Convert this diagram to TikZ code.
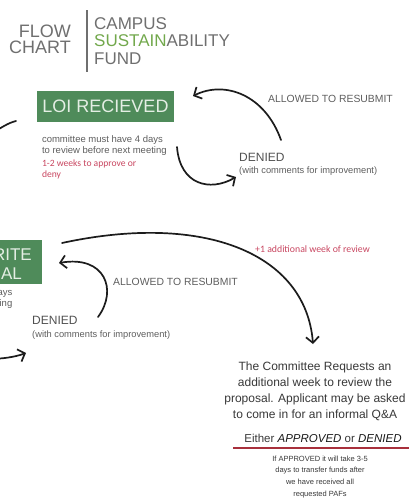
\documentclass[tikz,border=0pt]{standalone}
\usepackage{fontspec}
\setmainfont{Liberation Sans}
\newfontfamily\calfont{Carlito}
\usepackage{xcolor}
\usetikzlibrary{arrows.meta, positioning}

\definecolor{loigreen}{HTML}{4F8B5A}
\definecolor{boxtext}{HTML}{E4EEE4}
\definecolor{titlegray}{HTML}{6F6F6F}
\definecolor{titlegreen}{HTML}{72A84C}
\definecolor{notegray}{HTML}{5E5E5E}
\definecolor{notered}{HTML}{C84660}
\definecolor{rulered}{HTML}{A8303C}
\definecolor{ink}{HTML}{1C1C1C}

\begin{document}
\begin{tikzpicture}[
  x=1pt, y=-1pt,
  stage/.style={rectangle, fill=loigreen, text=boxtext, inner sep=0pt, font=\fontsize{18}{19}\selectfont},
  stagetext/.style={inner sep=0pt, text=boxtext, font=\fontsize{17}{18}\selectfont},
  note/.style={inner sep=0pt, text=notegray, align=left, font=\fontsize{9.5}{11.5}\selectfont},
  rednote/.style={inner sep=0pt, text=notered, align=left, font=\calfont\fontsize{9.6}{11.5}\selectfont},
  denied/.style={inner sep=0pt, text=notegray!85!black, font=\fontsize{12}{12}\selectfont},
  comment/.style={inner sep=0pt, text=notegray, font=\fontsize{9.3}{11}\selectfont},
  resubmit/.style={inner sep=0pt, text=notegray, font=\fontsize{10.4}{11}\selectfont},
  decision/.style={inner sep=0pt, text=black!78, align=center, font=\fontsize{12}{16}\selectfont},
  arrow/.style={draw=ink, line width=1.7pt, line cap=round, -{Straight Barb[length=6pt, width=13pt]}},
  stroke/.style={draw=ink, line width=1.7pt, line cap=round}
]
\clip (0,0) rectangle (409,498);

% Title
\node (flow) [anchor=north east, inner sep=0pt, align=right, text=titlegray, font=\fontsize{18}{16}\selectfont] at (71,25) {FLOW\\CHART};
\node (fund) [anchor=north west, inner sep=0pt, align=left, text=titlegray, font=\fontsize{17}{17.5}\selectfont] at (94,17) {CAMPUS\\\textcolor{titlegreen}{SUSTAIN}ABILITY\\FUND};
\coordinate (bartop) at (87,10);
\coordinate (barbot) at (87,72);
\draw [titlegray, line width=1.3pt] (bartop) -- (barbot);

% LOI stage
\node (loi) [stage, minimum width=137pt, minimum height=31pt] at (105.5,106.5) {LOI RECIEVED};
\node (loinote) [note, below=13pt of loi.south west, anchor=north west, xshift=5pt] {committee must have 4 days\\to review before next meeting};
\node (loired) [rednote, below=3.5pt of loinote.south west, anchor=north west] {1-2 weeks to approve or\\deny};
\node (dena) [denied, anchor=base west] at (239,161) {DENIED};
\node (denanote) [comment, anchor=base west] at (239,173) {(with comments for improvement)};
\node (resa) [resubmit, anchor=base west] at (268,102) {ALLOWED TO RESUBMIT};

% Proposal stage
\node (prop) [stage, minimum width=90pt, minimum height=44pt] at (-3,262) {};
\node (propa) [stagetext, anchor=base east] at (32,260) {RITE};
\node (propb) [stagetext, anchor=base east] at (22,279) {SAL};
\node (propnote) [note, align=right, anchor=north east] at (12.5,290) {ays\\ting};
\node (denb) [denied, anchor=base west] at (32,324.5) {DENIED};
\node (denbnote) [comment, anchor=base west] at (32,337) {(with comments for improvement)};
\node (resb) [resubmit, anchor=base west] at (113,285) {ALLOWED TO RESUBMIT};
\node (extra) [rednote, anchor=base west, font=\calfont\fontsize{9.8}{11}\selectfont] at (255,252) {+1 additional week of review};

% Committee review
\node (review) [decision, anchor=north] at (315,361.5) {The Committee Requests an\\additional week to review the\\proposal. Applicant may be asked\\to come in for an informal Q\&A};
\node (either) [decision, anchor=base, font=\fontsize{11.5}{12}\selectfont] at (323,442) {Either \textcolor{black!90}{\itshape APPROVED} or \textcolor{black!90}{\itshape DENIED}};
\node (funds) [decision, anchor=north, font=\fontsize{7.5}{11.7}\selectfont] at (320,455.5) {If APPROVED it will take 3-5\\days to transfer funds after\\we have received all\\requested PAFs};
\coordinate (rulea) at (233,448);
\coordinate (ruleb) at (409,448);
\draw [rulered, line width=1.1pt] (rulea) -- (ruleb);

% Arrows
\coordinate (offa) at (-12,136);
\coordinate (loiin) at (16,121);
\coordinate (loiout) at (177,147);
\coordinate (denin) at (236,177);
\coordinate (dentop) at (281,140);
\coordinate (loiback) at (193,96);
\coordinate (propout) at (62,243);
\coordinate (reviewin) at (313,344);
\coordinate (denbtop) at (98,317);
\coordinate (propback) at (59,263);
\coordinate (offb) at (-12,359);
\coordinate (denbin) at (26,353);

\draw [stroke] (loiin) .. controls (8,123) and (2,127) .. (offa);
\draw [arrow] (loiout) .. controls (180,185) and (210,192) .. (denin);
\draw [arrow] (dentop) .. controls (265,95) and (225,80) .. (loiback);
\draw [arrow] (propout) .. controls (205,212) and (306,254) .. (reviewin);
\draw [arrow] (denbtop) .. controls (118,290) and (105,255) .. (propback);
\draw [arrow] (offb) .. controls (2,359) and (15,357) .. (denbin);

\end{tikzpicture}
\end{document}
